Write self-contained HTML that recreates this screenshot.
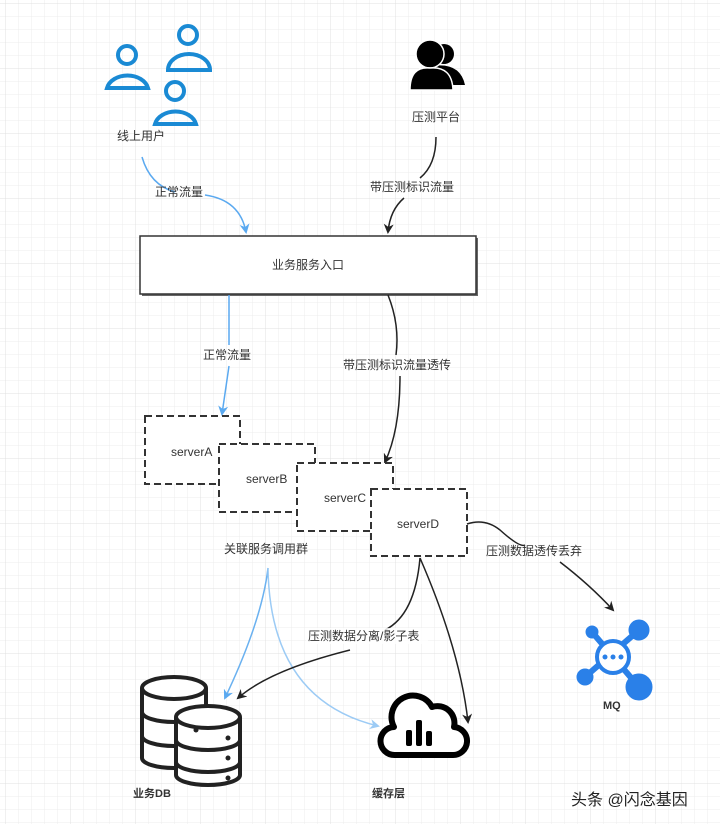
<!DOCTYPE html>
<html><head><meta charset="utf-8"><style>
html,body{margin:0;padding:0;background:#fff}
svg{display:block}
text{font-family:"Liberation Sans","Noto Sans CJK SC",sans-serif;font-size:12px;fill:#333}
</style></head><body>
<svg width="720" height="824" viewBox="0 0 720 824" xmlns="http://www.w3.org/2000/svg">
<defs>
<pattern id="g" width="13" height="13" patternUnits="userSpaceOnUse" x="6" y="4">
<path d="M13 0V13M0 13H13" stroke="#ececec" stroke-width="1" fill="none"/>
</pattern>
<pattern id="G" width="65" height="65" patternUnits="userSpaceOnUse" x="6" y="4">
<path d="M65 0V65M0 65H65" stroke="#e0e0e0" stroke-width="1" fill="none"/>
</pattern>
<marker id="ab" markerWidth="10" markerHeight="10" refX="8" refY="5" orient="auto" markerUnits="userSpaceOnUse"><path d="M0,0 L10,5 L0,10 L3,5z" fill="#222"/></marker>
<marker id="al" markerWidth="10" markerHeight="10" refX="8" refY="5" orient="auto" markerUnits="userSpaceOnUse"><path d="M0,0 L10,5 L0,10 L3,5z" fill="#5aa9f0"/></marker>
<marker id="al2" markerWidth="10" markerHeight="10" refX="8" refY="5" orient="auto" markerUnits="userSpaceOnUse"><path d="M0,0 L10,5 L0,10 L3,5z" fill="#9ccbf5"/></marker>
</defs>
<rect width="720" height="824" fill="url(#g)"/>
<rect width="720" height="824" fill="url(#G)"/>

<!-- users -->
<g fill="none" stroke="#1a8ad4" stroke-width="4">
<circle cx="127" cy="55" r="9"/><path d="M107,88 A21,16 0 0 1 148,88 Z"/>
<circle cx="188" cy="35" r="9"/><path d="M168,70 A21,16 0 0 1 210,70 Z"/>
<circle cx="175" cy="91" r="9"/><path d="M155,124 A21,16 0 0 1 196,124 Z"/>
</g>
<text x="117" y="140">线上用户</text>
<!-- black users -->
<g fill="#000">
<circle cx="444" cy="54" r="10"/><path d="M432,66 Q460,62 465,85 L440,85z"/>
<circle cx="430" cy="54" r="14" stroke="#fff" stroke-width="1.5"/>
<path d="M410,90 Q410,66 430,68 Q452,66 453,90z" stroke="#fff" stroke-width="1.5"/>
</g>
<text x="412" y="121">压测平台</text>

<!-- main box -->
<rect x="142" y="238" width="336" height="58" fill="#666"/>
<rect x="140" y="236" width="336" height="58" fill="#fff" stroke="#333" stroke-width="1.5"/>
<text x="272" y="269">业务服务入口</text>

<!-- arrows top -->
<path d="M142,157 Q150,185 175,192" fill="none" stroke="#5aa9f0" stroke-width="1.5"/>
<path d="M205,195 Q240,200 246,232" fill="none" stroke="#5aa9f0" stroke-width="1.5" marker-end="url(#al)"/>
<text x="155" y="196">正常流量</text>
<path d="M436,137 Q436,165 420,178" fill="none" stroke="#222" stroke-width="1.5"/>
<path d="M404,198 Q390,210 388,232" fill="none" stroke="#222" stroke-width="1.5" marker-end="url(#ab)"/>
<text x="370" y="191">带压测标识流量</text>

<path d="M229,295 L229,345 M229,366 L222,414" fill="none" stroke="#5aa9f0" stroke-width="1.5" marker-end="url(#al)"/>
<text x="203" y="359">正常流量</text>
<path d="M388,295 Q400,325 396,355" fill="none" stroke="#222" stroke-width="1.5"/>
<path d="M400,376 Q400,430 385,462" fill="none" stroke="#222" stroke-width="1.5" marker-end="url(#ab)"/>
<text x="343" y="369">带压测标识流量透传</text>

<!-- servers -->
<g fill="#fff" stroke="#333" stroke-width="2" stroke-dasharray="7,4">
<rect x="145" y="416" width="95" height="68"/>
<rect x="219" y="444" width="96" height="68"/>
<rect x="297" y="463" width="96" height="68"/>
<rect x="371" y="489" width="96" height="67"/>
</g>
<text x="171" y="456">serverA</text>
<text x="246" y="483">serverB</text>
<text x="324" y="502">serverC</text>
<text x="397" y="528">serverD</text>
<text x="224" y="553">关联服务调用群</text>

<!-- to MQ -->
<path d="M467,524 Q485,518 500,530 Q520,548 525,545" fill="none" stroke="#222" stroke-width="1.5"/>
<path d="M560,562 Q590,585 613,610" fill="none" stroke="#222" stroke-width="1.5" marker-end="url(#ab)"/>
<text x="486" y="555">压测数据透传丢弃</text>

<!-- blue to db/cache -->
<path d="M268,568 Q262,620 225,698" fill="none" stroke="#6ab1f0" stroke-width="1.5" marker-end="url(#al)"/>
<path d="M268,568 Q270,700 378,726" fill="none" stroke="#9ccbf5" stroke-width="1.5" marker-end="url(#al2)"/>
<!-- black from D -->
<path d="M420,558 Q415,615 385,630" fill="none" stroke="#222" stroke-width="1.5"/>
<path d="M350,650 Q270,670 238,698" fill="none" stroke="#222" stroke-width="1.5" marker-end="url(#ab)"/>
<path d="M420,558 Q460,650 468,722" fill="none" stroke="#222" stroke-width="1.5" marker-end="url(#ab)"/>
<rect x="306" y="628" width="122" height="16" fill="#fff" opacity="0.8"/>
<text x="308" y="640">压测数据分离/影子表</text>

<!-- DB -->
<g fill="#fff" stroke="#222" stroke-width="4">
<path d="M142,688 v70 a32,10 0 0 0 64,0 v-70"/>
<ellipse cx="174" cy="688" rx="32" ry="11"/>
<path d="M142,712 a32,10 0 0 0 64,0 M142,736 a32,10 0 0 0 64,0" fill="none"/>
<path d="M176,717 v58 a32,10 0 0 0 64,0 v-58"/>
<ellipse cx="208" cy="717" rx="32" ry="11"/>
<path d="M176,740 a32,10 0 0 0 64,0 M176,762 a32,10 0 0 0 64,0" fill="none"/>
</g>
<g fill="#222"><circle cx="196" cy="730" r="2.5"/><circle cx="228" cy="738" r="2.5"/><circle cx="228" cy="758" r="2.5"/><circle cx="228" cy="778" r="2.5"/></g>
<text x="133" y="797" style="font-weight:bold;font-size:11px">业务DB</text>

<!-- cloud -->
<path d="M395,755 a14,14 0 0 1 -1,-28 a20,20 0 0 1 38,-20 a17,17 0 0 1 22,20 a14,14 0 0 1 -2,28 z" fill="#fff" stroke="#000" stroke-width="6" stroke-linejoin="round"/>
<g fill="#000"><rect x="406" y="730" width="6" height="16" rx="2"/><rect x="416" y="720" width="6" height="26" rx="2"/><rect x="426" y="731" width="6" height="15" rx="2"/></g>
<text x="372" y="797" style="font-weight:bold;font-size:11px">缓存层</text>

<!-- MQ -->
<g fill="#2a80e8" stroke="#2a80e8">
<path d="M592,632 L639,687 M639,630 L585,677" stroke-width="6"/>
<circle cx="592" cy="632" r="6"/><circle cx="639" cy="630" r="10"/><circle cx="585" cy="677" r="8"/><circle cx="639" cy="687" r="13"/>
<circle cx="613" cy="657" r="16" fill="#fff" stroke-width="4"/>
<circle cx="605" cy="657" r="2.5" stroke="none"/><circle cx="613" cy="657" r="2.5" stroke="none"/><circle cx="621" cy="657" r="2.5" stroke="none"/>
</g>
<text x="603" y="709" style="font-weight:bold;font-size:11px">MQ</text>

<text x="571" y="805" style="font-size:16px;fill:#222">头条 @闪念基因</text>
</svg>
</body></html>
